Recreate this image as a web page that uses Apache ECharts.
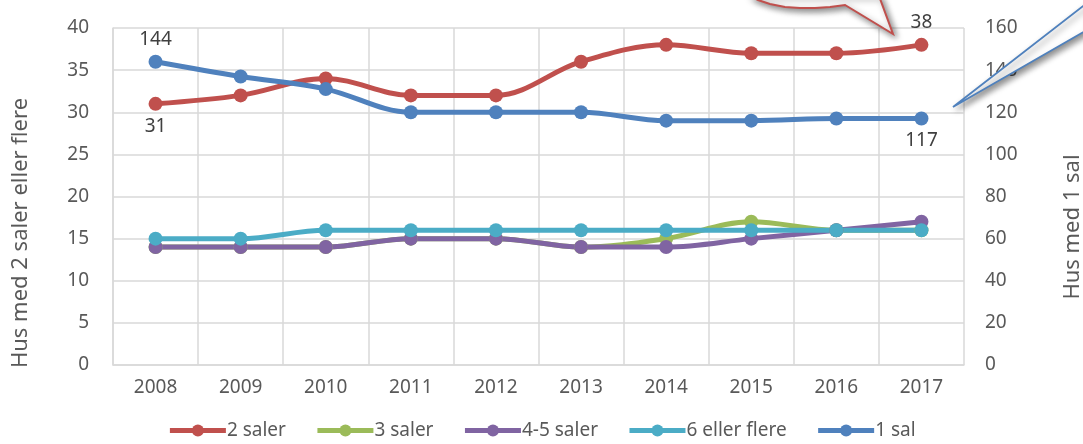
<!DOCTYPE html>
<html>
<head>
<meta charset="utf-8">
<script src="https://cdn.jsdelivr.net/npm/echarts@6/dist/echarts.min.js"></script>
<style>
  html, body { margin: 0; padding: 0; background: #fff; }
  #chart { width: 1083px; height: 444px; }
</style>
</head>
<body>
<div id="chart"></div>
<script>
// år
const years = ["2008", "2009", "2010", "2011", "2012", "2013", "2014", "2015", "2016", "2017"];
// venstre akse (antall hus)
const saler2 = [31, 32, 34, 32, 32, 36, 38, 37, 37, 38];
const saler3 = [14, 14, 14, 15, 15, 14, 15, 17, 16, 16];
const saler45 = [14, 14, 14, 15, 15, 14, 14, 15, 16, 17];
const flere6 = [15, 15, 16, 16, 16, 16, 16, 16, 16, 16];
// høyre akse
const sal1 = [144, 137, 131, 120, 120, 120, 116, 116, 117, 117];

const FONT = "Noto Sans";
const tickColor = "#595959";
const labelColor = "#404040";

// etiketter bare på første og siste punkt
const withEndLabels = (arr, firstPos, lastPos) =>
  arr.map((v, i) => {
    if (i === 0) return { value: v, label: { show: true, position: firstPos } };
    if (i === arr.length - 1) return { value: v, label: { show: true, position: lastPos } };
    return v;
  });

const lineSeries = (name, color, data, yIndex) => ({
  name: name,
  type: "line",
  yAxisIndex: yIndex,
  smooth: 0.35,
  data: data,
  symbol: "circle",
  symbolSize: 14,
  lineStyle: { color: color, width: 5 },
  itemStyle: { color: color },
  label: {
    show: false,
    color: labelColor,
    fontFamily: FONT,
    fontSize: 19,
    distance: 6,
  },
  emphasis: { disabled: true },
});

const shadow = {
  shadowBlur: 6,
  shadowColor: "rgba(0,0,0,0.45)",
  shadowOffsetX: 3,
  shadowOffsetY: 3,
};

const chart = echarts.init(document.getElementById("chart"));
chart.setOption({
  animation: false,
  textStyle: { fontFamily: FONT },
  grid: { left: 113, right: 119, top: 28, bottom: 79 },
  legend: {
    bottom: -1,
    left: "center",
    itemWidth: 56,
    itemHeight: 15,
    itemGap: 29,
    lineStyle: { width: 5 },
    textStyle: { color: tickColor, fontSize: 19, fontFamily: FONT, padding: [0, 0, 0, -4] },
    data: ["2 saler", "3 saler", "4-5 saler", "6 eller flere", "1 sal"],
  },
  xAxis: {
    type: "category",
    data: years,
    boundaryGap: true,
    axisLine: { lineStyle: { color: "#D9D9D9", width: 1.5 } },
    axisTick: { show: false },
    axisLabel: { color: tickColor, fontSize: 19, margin: 13 },
    splitLine: { show: true, lineStyle: { color: "#D9D9D9", width: 1.5 } },
  },
  yAxis: [
    {
      type: "value",
      min: 0,
      max: 40,
      interval: 5,
      axisLine: { show: true, lineStyle: { color: "#D9D9D9", width: 1.5 } },
      axisTick: { show: false },
      axisLabel: { color: tickColor, fontSize: 19, margin: 24 },
      splitLine: { lineStyle: { color: "#D9D9D9", width: 1.5 } },
    },
    {
      type: "value",
      min: 0,
      max: 160,
      interval: 20,
      position: "right",
      axisLine: { show: false },
      axisTick: { show: false },
      axisLabel: { color: tickColor, fontSize: 19, margin: 21 },
      splitLine: { show: false },
    },
  ],
  series: [
    lineSeries("2 saler", "#C0504D", withEndLabels(saler2, "bottom", "top"), 0),
    lineSeries("3 saler", "#9BBB59", saler3, 0),
    lineSeries("4-5 saler", "#8064A2", saler45, 0),
    lineSeries("6 eller flere", "#4BACC6", flere6, 0),
    lineSeries("1 sal", "#4F81BD", withEndLabels(sal1, "top", "bottom"), 1),
  ],
  graphic: [
    // aksetitler
    {
      type: "text",
      x: 10,
      y: 233,
      rotation: Math.PI / 2,
      style: {
        text: "Hus med 2 saler eller flere",
        fill: tickColor,
        font: "22px 'Noto Sans'",
        textAlign: "center",
        textVerticalAlign: "top",
      },
    },
    {
      type: "text",
      x: 1062,
      y: 227,
      rotation: Math.PI / 2,
      style: {
        text: "Hus med 1 sal",
        fill: tickColor,
        font: "22px 'Noto Sans'",
        textAlign: "center",
        textVerticalAlign: "top",
      },
    },
    // rød snakkeboble (avkuttet i toppen)
    {
      type: "polygon",
      z: 100,
      shape: {
        points: [[750, -4], [758, 0], [770, 4], [785, 7], [800, 8], [815, 8], [830, 7], [845, 5],
                 [893, 34], [879, -4]],
      },
      style: Object.assign({ fill: "#fff", stroke: "#C0504D", lineWidth: 2 }, shadow),
    },
    // blå bildeforklaring
    {
      type: "polygon",
      z: 100,
      shape: { points: [[953, 107], [1087, 3], [1087, 30]] },
      style: Object.assign({ fill: "#fff", stroke: "#4F81BD", lineWidth: 1.8 }, shadow),
    },
  ],
});
</script>
</body>
</html>
